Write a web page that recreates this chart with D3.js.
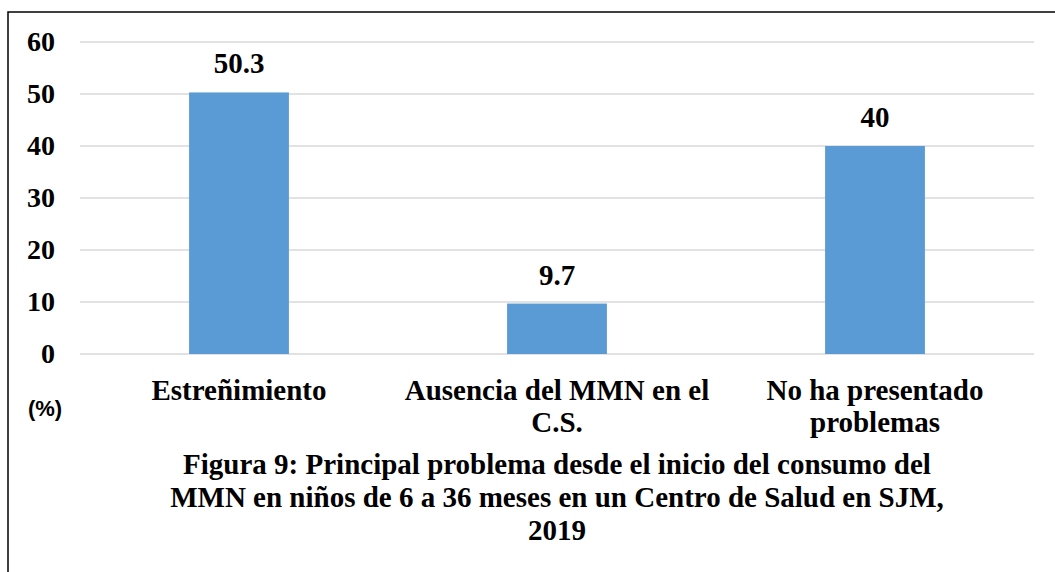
<!DOCTYPE html>
<html>
<head>
<meta charset="utf-8">
<script src="https://cdn.jsdelivr.net/npm/d3@7/dist/d3.min.js"></script>
<style>
html,body{margin:0;padding:0;background:#fff;}
svg{display:block;}
.serif{font-family:"Liberation Serif","Times New Roman",Times,"DejaVu Serif",serif;font-weight:bold;}
.sans{font-family:"Liberation Sans",Arial,sans-serif;font-weight:bold;}
</style>
</head>
<body>
<script>
const categories = [["Estreñimiento"], ["Ausencia del MMN en el", "C.S."], ["No ha presentado", "problemas"]];
const values = [50.3, 9.7, 40];
const valueLabels = ["50.3", "9.7", "40"];
const yTicks = [0, 10, 20, 30, 40, 50, 60];
const titleLines = ["Figura 9: Principal problema desde el inicio del consumo del", "MMN en niños de 6 a 36 meses en un Centro de Salud en SJM,", "2019"];
const unitLabel = "(%)";

const W = 1055, H = 572;
const svg = d3.select("body").append("svg").attr("width", W).attr("height", H);

// frame
svg.append("rect").attr("x", 8).attr("y", 12).attr("width", 1200).attr("height", 700)
  .attr("fill", "none").attr("stroke", "#000").attr("stroke-width", 1.5);

const x = d3.scaleBand().domain(d3.range(values.length)).range([80, 1034])
  .paddingInner(0.686).paddingOuter(0.343);
const y = d3.scaleLinear().domain([0, 60]).range([354, 42]);

// gridlines
svg.append("g").selectAll("line").data(yTicks).join("line")
  .attr("x1", 80).attr("x2", 1034)
  .attr("y1", d => y(d)).attr("y2", d => y(d))
  .attr("stroke", "#D9D9D9").attr("stroke-width", 1.5);

// y axis labels
const yAxis = d3.axisLeft(y).tickValues(yTicks).tickSize(0).tickPadding(0);
const gy = svg.append("g").attr("transform", "translate(55,0)").call(yAxis)
  .attr("font-family", null).attr("font-size", null);
gy.select(".domain").remove();
gy.selectAll("text").attr("class", "serif").style("font-size", "28px").attr("fill", "#000");

// bars
svg.append("g").selectAll("rect").data(values).join("rect")
  .attr("x", (d, i) => x(i)).attr("width", x.bandwidth())
  .attr("y", d => y(d)).attr("height", d => y(0) - y(d))
  .attr("fill", "#5B9BD5");

// value labels
svg.append("g").selectAll("text").data(values).join("text")
  .attr("class", "serif").style("font-size", "29px")
  .attr("x", (d, i) => x(i) + x.bandwidth() / 2)
  .attr("y", d => y(d) - 19)
  .attr("text-anchor", "middle")
  .text((d, i) => valueLabels[i]);

// category labels
const cat = svg.append("g").selectAll("text").data(categories).join("text")
  .attr("class", "serif").style("font-size", "29px")
  .attr("text-anchor", "middle");
cat.each(function(lines, i) {
  d3.select(this).selectAll("tspan").data(lines).join("tspan")
    .attr("x", x(i) + x.bandwidth() / 2)
    .attr("y", (l, j) => 400 + j * 32)
    .text(l => l);
});

// unit label
svg.append("text").attr("class", "sans").style("font-size", "22px")
  .attr("x", 45).attr("y", 416).attr("text-anchor", "middle")
  .text(unitLabel);

// title
svg.append("g").selectAll("text").data(titleLines).join("text")
  .attr("class", "serif").style("font-size", "29px")
  .attr("x", 557).attr("y", (d, i) => 474 + i * 33)
  .attr("text-anchor", "middle")
  .text(d => d);
</script>
</body>
</html>
